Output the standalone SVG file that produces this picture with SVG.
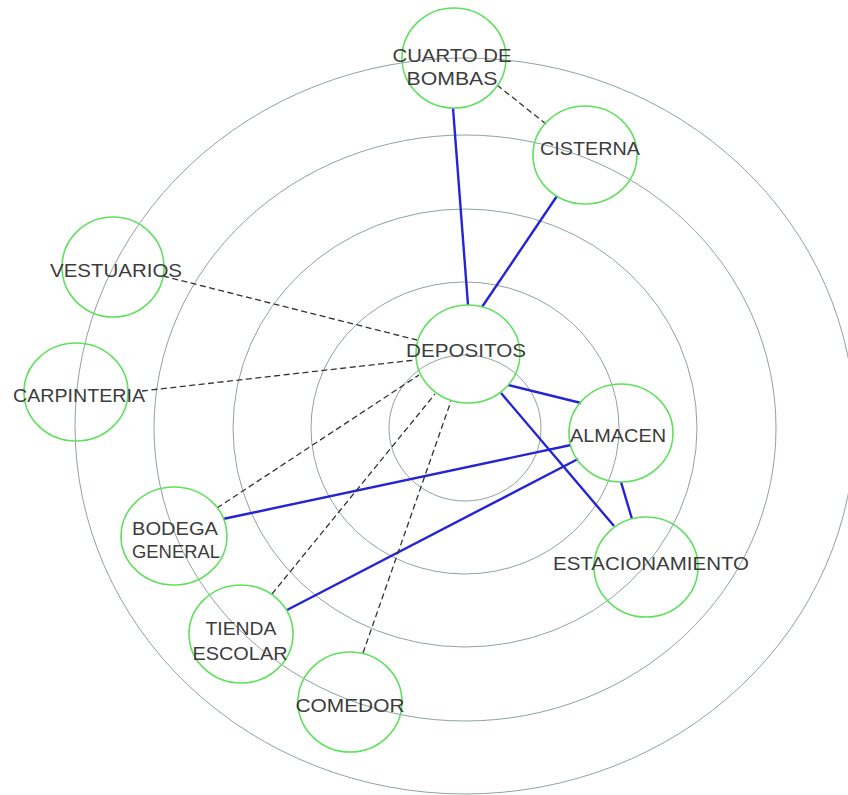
<svg xmlns="http://www.w3.org/2000/svg" width="848" height="795" viewBox="0 0 848 795">
<style>
.ring{fill:none;stroke:#8fa39e;stroke-width:1}
.node{fill:none;stroke:#5fe05f;stroke-width:1.6}
.solid{stroke:#2424d4;stroke-width:2.4;fill:none}
.dash{stroke:#333;stroke-width:1.3;stroke-dasharray:6 3.5;fill:none}
text{font-family:"Liberation Sans",Arial,sans-serif;font-size:17.5px;fill:#3c3c3c;text-anchor:middle}
</style>
<rect width="848" height="795" fill="#fff"/>
<g id="rings">
<ellipse class="ring" cx="465" cy="428" rx="76" ry="73"/>
<ellipse class="ring" cx="465" cy="428" rx="154" ry="146"/>
<ellipse class="ring" cx="465" cy="428" rx="232" ry="219"/>
<ellipse class="ring" cx="465" cy="428" rx="311" ry="293"/>
<ellipse class="ring" cx="465" cy="426" rx="390" ry="368"/>
</g>
<g id="connectors">
<line class="solid" x1="453" y1="108" x2="468" y2="305"/>
<line class="solid" x1="557" y1="196" x2="482" y2="307"/>
<line class="solid" x1="508" y1="385" x2="581" y2="403"/>
<line class="solid" x1="501" y1="393" x2="614" y2="526"/>
<line class="solid" x1="621" y1="482" x2="632" y2="519"/>
<line class="solid" x1="223" y1="519" x2="571" y2="445"/>
<line class="solid" x1="287" y1="610" x2="578" y2="459"/>
<line class="dash" x1="497" y1="85" x2="546" y2="124"/>
<line class="dash" x1="163" y1="276" x2="417" y2="340"/>
<line class="dash" x1="142" y1="391" x2="415" y2="360"/>
<line class="dash" x1="217" y1="508" x2="419" y2="375"/>
<line class="dash" x1="272" y1="594" x2="435" y2="394"/>
<line class="dash" x1="363" y1="653" x2="451" y2="401"/>
</g>
<g id="cuarto-de-bombas">
<ellipse class="node" cx="454" cy="58" rx="52" ry="50"/>
<text x="452" y="62" textLength="119" lengthAdjust="spacingAndGlyphs">CUARTO DE</text>
<text x="452" y="85" textLength="91" lengthAdjust="spacingAndGlyphs">BOMBAS</text>
</g>
<g id="cisterna">
<ellipse class="node" cx="585" cy="155" rx="52" ry="49"/>
<text x="590" y="155" textLength="100" lengthAdjust="spacingAndGlyphs">CISTERNA</text>
</g>
<g id="vestuarios">
<ellipse class="node" cx="113" cy="267" rx="51" ry="50"/>
<text x="116" y="277" textLength="132" lengthAdjust="spacingAndGlyphs">VESTUARIOS</text>
</g>
<g id="carpinteria">
<ellipse class="node" cx="76" cy="392" rx="52" ry="49"/>
<text x="79" y="402" textLength="132" lengthAdjust="spacingAndGlyphs">CARPINTERIA</text>
</g>
<g id="depositos">
<ellipse class="node" cx="468" cy="354" rx="52" ry="49"/>
<text x="466" y="357" textLength="120" lengthAdjust="spacingAndGlyphs">DEPOSITOS</text>
</g>
<g id="almacen">
<ellipse class="node" cx="621" cy="433" rx="52" ry="49"/>
<text x="618" y="442" textLength="96" lengthAdjust="spacingAndGlyphs">ALMACEN</text>
</g>
<g id="estacionamiento">
<ellipse class="node" cx="646" cy="567" rx="52" ry="50"/>
<text x="651" y="570" textLength="196" lengthAdjust="spacingAndGlyphs">ESTACIONAMIENTO</text>
</g>
<g id="bodega-general">
<ellipse class="node" cx="174" cy="536" rx="53" ry="49"/>
<text x="175" y="535" textLength="86" lengthAdjust="spacingAndGlyphs">BODEGA</text>
<text x="176" y="558" textLength="88" lengthAdjust="spacingAndGlyphs">GENERAL</text>
</g>
<g id="tienda-escolar">
<ellipse class="node" cx="241" cy="634" rx="52" ry="49"/>
<text x="241" y="635" textLength="71" lengthAdjust="spacingAndGlyphs">TIENDA</text>
<text x="240" y="660" textLength="95" lengthAdjust="spacingAndGlyphs">ESCOLAR</text>
</g>
<g id="comedor">
<ellipse class="node" cx="350" cy="702" rx="52" ry="50"/>
<text x="350" y="712" textLength="109" lengthAdjust="spacingAndGlyphs">COMEDOR</text>
</g>
</svg>
